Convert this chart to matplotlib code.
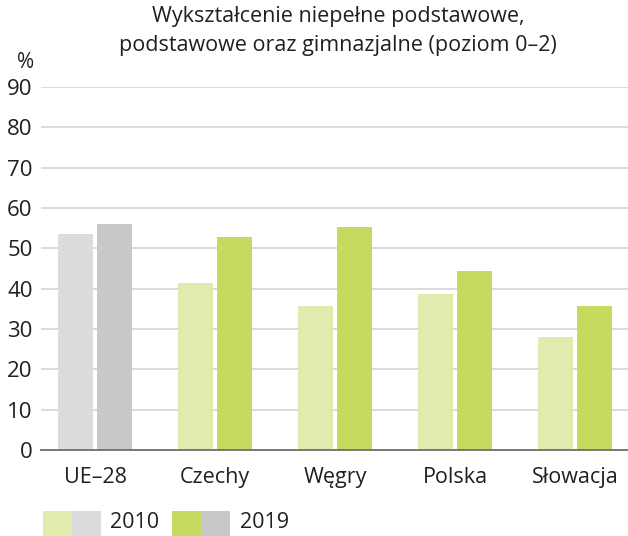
import matplotlib
matplotlib.use("Agg")
import matplotlib.pyplot as plt
from matplotlib.patches import Rectangle
import numpy as np

categories = ["UE\u201328", "Czechy", "W\u0119gry", "Polska", "S\u0142owacja"]
values_2010 = [53.6, 41.3, 35.6, 38.8, 28.0]
values_2019 = [56.1, 52.9, 55.4, 44.3, 35.6]
series_labels = ["2010", "2019"]
yticks = [0, 10, 20, 30, 40, 50, 60, 70, 80, 90]
title = "Wykszta\u0142cenie niepe\u0142ne podstawowe,\npodstawowe oraz gimnazjalne (poziom 0\u20132)"

c2010 = "#e2ebad"
c2019 = "#c5da5e"
g2010 = "#dcdcde"
g2019 = "#c8c8ca"
txt = "#231f20"

plt.rcParams['font.family'] = ['Open Sans', 'DejaVu Sans']

W, H = 628, 536
fig = plt.figure(figsize=(W / 100, H / 100), dpi=100)
ax = fig.add_axes([41 / W, (H - 450) / H, (W - 41) / W, (450 - 87) / H])

x = np.arange(len(categories))
bw = 35 / 120
off = (35 / 2 + 2) / 120
cols10 = [g2010] + [c2010] * (len(categories) - 1)
cols19 = [g2019] + [c2019] * (len(categories) - 1)
ax.bar(x - off, values_2010, width=bw, color=cols10, zorder=3)
ax.bar(x + off, values_2019, width=bw, color=cols19, zorder=3)

ax.set_xlim((41 - 95) / 120, (W - 95) / 120)
ax.set_ylim(0, 90)
ax.set_yticks(yticks)
ax.set_xticks(x)
ax.set_xticklabels(categories)
ax.tick_params(axis='y', length=0, labelsize=16, colors=txt, pad=6)
ax.tick_params(axis='x', length=0, labelsize=15.5, colors=txt, pad=12)
ax.yaxis.grid(True, color="#dadada", linewidth=1.4, zorder=0)
ax.set_axisbelow(True)
for s in ["top", "right", "left"]:
    ax.spines[s].set_visible(False)
ax.spines["bottom"].set_color("#6d6e71")
ax.spines["bottom"].set_linewidth(1.3)
ax.spines["bottom"].set_zorder(4)

fig.text(338 / W, 1 - 6 / H, title, ha="center", va="top", fontsize=15.5, color=txt,
         linespacing=1.5)
fig.text(26 / W, 1 - 62 / H, "%", ha="center", va="center", fontsize=15, color=txt)

# legend
def sw(x0, color):
    fig.add_artist(Rectangle((x0 / W, (H - 536) / H), 29 / W, 25 / H,
                             transform=fig.transFigure, color=color, lw=0))
sw(43, c2010)
sw(72, g2010)
sw(172, c2019)
sw(201, g2019)
fig.text(110 / W, 1 - 523 / H, series_labels[0], ha="left", va="center", fontsize=15.5, color=txt)
fig.text(240 / W, 1 - 523 / H, series_labels[1], ha="left", va="center", fontsize=15.5, color=txt)

fig.savefig("out.png", dpi=100)
